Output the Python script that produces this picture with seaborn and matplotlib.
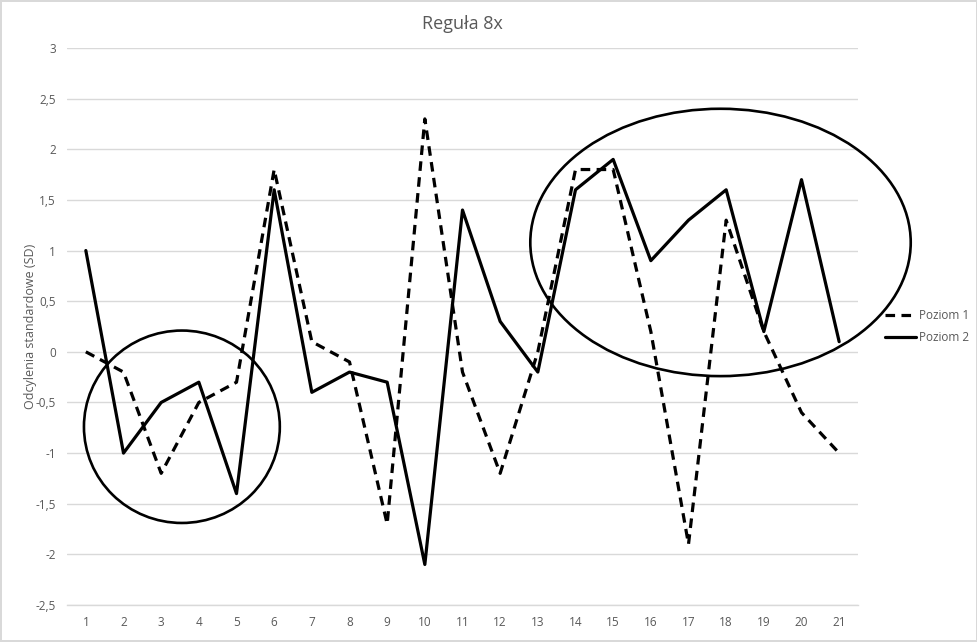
import matplotlib
matplotlib.use("Agg")
import matplotlib.pyplot as plt
from matplotlib.patches import Ellipse
import seaborn as sns
import pandas as pd

x_values = list(range(1, 22))
poziom1 = [0, -0.2, -1.2, -0.5, -0.3, 1.8, 0.1, -0.1, -1.7, 2.3, -0.2, -1.2, 0.0, 1.8, 1.8, 0.2, -1.9, 1.3, 0.2, -0.6, -1.0]
poziom2 = [1.0, -1.0, -0.5, -0.3, -1.4, 1.6, -0.4, -0.2, -0.3, -2.1, 1.4, 0.3, -0.2, 1.6, 1.9, 0.9, 1.3, 1.6, 0.2, 1.7, 0.1]
y_ticks = [-2.5, -2, -1.5, -1, -0.5, 0, 0.5, 1, 1.5, 2, 2.5, 3]
title = "Reguła 8x"
ylabel = "Odcylenia standardowe (SD)"

sns.set_theme(style="white")
plt.rcParams['font.family'] = ['Open Sans', 'DejaVu Sans']

fig = plt.figure(figsize=(9.78, 6.42), dpi=100)
fig.patch.set_edgecolor("#d9d9d9")
fig.patch.set_linewidth(1.5)
ax = fig.add_axes([67/978, 1 - 605/642, (858 - 67)/978, (605 - 48)/642])

df1 = pd.DataFrame({"x": x_values, "y": poziom1})
df2 = pd.DataFrame({"x": x_values, "y": poziom2})
sns.lineplot(data=df1, x="x", y="y", ax=ax, color="black", linewidth=2.3,
             linestyle=(0, (3, 2)), label="Poziom 1")
sns.lineplot(data=df2, x="x", y="y", ax=ax, color="black", linewidth=2.3,
             label="Poziom 2")

# annotation ellipses
ax.add_patch(Ellipse((3.55, -0.74), 5.2, 1.9, fill=False, edgecolor="black", linewidth=1.9, clip_on=False))
ax.add_patch(Ellipse((17.85, 1.08), 10.1, 2.64, fill=False, edgecolor="black", linewidth=1.9, clip_on=False))

ax.set_xlim(0.5, 21.5)
ax.set_ylim(-2.5, 3)
ax.set_xticks(x_values)
ax.set_xticklabels([str(v) for v in x_values])
ax.set_yticks(y_ticks)
ax.set_yticklabels([("%g" % v).replace(".", ",") for v in y_ticks])
ax.tick_params(axis="both", colors="#595959", labelsize=8.5, length=0, pad=8)
ax.grid(axis="y", color="#d9d9d9", linewidth=1)
ax.grid(axis="x", visible=False)
for s in ["top", "right", "left"]:
    ax.spines[s].set_visible(False)
ax.spines["bottom"].set_color("#d9d9d9")
ax.spines["bottom"].set_linewidth(1)
ax.set_xlabel("")
ax.set_ylabel(ylabel, color="#595959", fontsize=9, labelpad=-1)
ax.set_title(title, color="#595959", fontsize=13, pad=14)

leg = ax.legend(loc="center left", bbox_to_anchor=(1.0, 0.5), frameon=False,
                fontsize=8.5, handlelength=2.6, handletextpad=0.3, labelspacing=0.8,
                borderaxespad=1.9)
for t in leg.get_texts():
    t.set_color("#595959")

fig.savefig("out.png", dpi=100)
